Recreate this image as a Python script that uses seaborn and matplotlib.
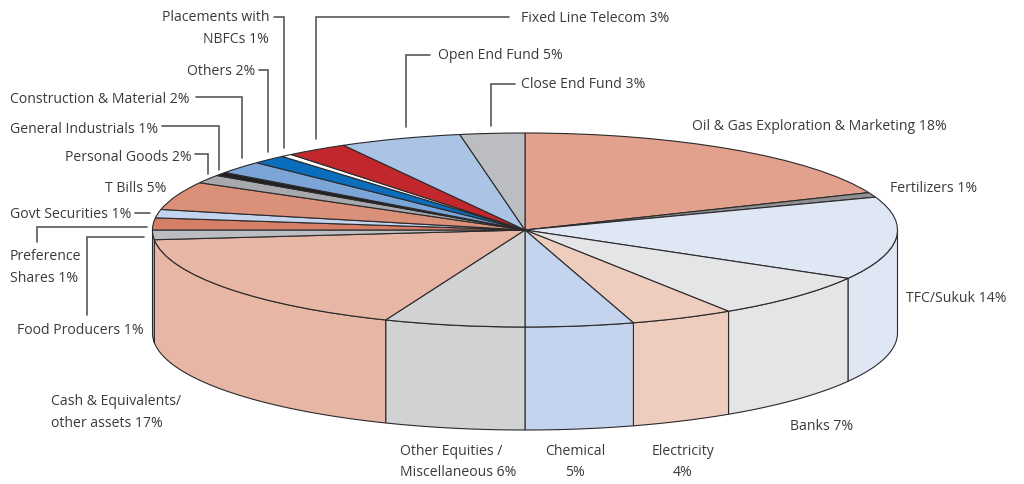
import numpy as np
import matplotlib
matplotlib.use('Agg')
import matplotlib.pyplot as plt
import seaborn as sns

# Sector shares (printed labels are rounded)
sectors = ['Oil & Gas', 'Fertilizers', 'TFC/Sukuk', 'Banks', 'Electricity', 'Chemical',
           'Other Equities', 'Cash', 'Food Producers', 'Preference Shares', 'Govt Securities',
           'T Bills', 'Personal Goods', 'General Industrials', 'Construction', 'Others',
           'Placements', 'Fixed Line Telecom', 'Open End Fund', 'Close End Fund']
shares = [18.7, 0.8, 13.8, 7.5, 4.5, 4.7, 6.1, 17.3, 1.6, 2.0, 1.4, 4.7, 1.4, 0.6, 2.1, 1.5, 0.5, 2.7, 5.3, 2.8]
slice_colors = ['#E2A18C', '#8E9093', '#DFE6F4', '#E4E5E6', '#EECDBF', '#C5D4EE', '#D1D2D4',
                '#E7B6A4', '#BBBDC0', '#D57F67', '#C5D4EE', '#DB9079', '#A7A9AC', '#231F20',
                '#7BA4D7', '#0A6EBD', '#FFFFFF', '#C1272D', '#ABC4E6', '#BBBDC0']

# text, x, y, alignment
label_lines = [
    ('Placements with', 269, 16, 'right'), ('NBFCs 1%', 269, 38, 'right'),
    ('Others 2%', 255, 70, 'right'), ('Construction & Material 2%', 10, 98, 'left'),
    ('General Industrials 1%', 10, 128, 'left'), ('Personal Goods 2%', 65, 156, 'left'),
    ('T Bills 5%', 105, 187, 'left'), ('Govt Securities 1%', 10, 213, 'left'),
    ('Preference', 10, 255, 'left'), ('Shares 1%', 10, 277, 'left'),
    ('Food Producers 1%', 17, 329, 'left'),
    ('Cash & Equivalents/', 51, 400, 'left'), ('other assets 17%', 51, 422, 'left'),
    ('Other Equities /', 400, 450, 'left'), ('Miscellaneous 6%', 400, 471, 'left'),
    ('Chemical', 575, 450, 'center'), ('5%', 575, 471, 'center'),
    ('Electricity', 683, 450, 'center'), ('4%', 683, 471, 'center'),
    ('Banks 7%', 790, 425, 'left'), ('TFC/Sukuk 14%', 906, 297, 'left'),
    ('Fertilizers 1%', 890, 187, 'left'),
    ('Oil & Gas Exploration & Marketing 18%', 692, 125, 'left'),
    ('Close End Fund 3%', 521, 83, 'left'), ('Open End Fund 5%', 438, 54, 'left'),
    ('Fixed Line Telecom 3%', 521, 17, 'left'),
]

leaders = [
    ([274, 284, 284], [17, 17, 148]), ([259, 268, 268], [70, 70, 152]),
    ([196, 242, 242], [97, 97, 158]), ([162, 219, 219], [126, 126, 170]),
    ([195, 208, 208], [154, 154, 174]), ([135, 150], [213, 213]),
    ([37, 37, 147], [242, 227, 227]), ([87, 87, 144], [315, 237, 237]),
    ([509, 316, 316], [17, 17, 139]), ([430, 406, 406], [55, 55, 127]),
    ([515, 491, 491], [84, 84, 126]),
]

sns.set_theme(style='white')
plt.rcParams['font.family'] = ['Open Sans', 'DejaVu Sans']

cx, cy, rx, ry, depth = 525, 230, 372.5, 97, 103
edge = '#2B2A2B'

fig = plt.figure(figsize=(10.24, 4.84), dpi=100)
ax = fig.add_axes([0, 0, 1, 1])
palette = sns.color_palette(slice_colors)

# top of the pie, squashed to an ellipse by the axis limits
ax.pie(shares, colors=palette, startangle=90, counterclock=False, radius=1,
       wedgeprops={'edgecolor': edge, 'linewidth': 0.8, 'zorder': 3})

# side wall of the front half
ends = np.cumsum(shares) / np.sum(shares) * 2 * np.pi
starts = np.concatenate([[0], ends[:-1]])
for a, b, col in zip(starts, ends, palette):
    a, b = max(a, np.pi / 2), min(b, 3 * np.pi / 2)
    if b <= a:
        continue
    t = np.linspace(a, b, 60)
    xs = np.sin(t)
    ys = np.cos(t)
    low = ys - depth / ry
    ax.fill(np.r_[xs, xs[::-1]], np.r_[ys, low[::-1]], facecolor=col, edgecolor=edge,
            linewidth=0.8, zorder=2)

ax.set_aspect('auto')
ax.set_xlim(-cx / rx, (1024 - cx) / rx)
ax.set_ylim((cy - 484) / ry, cy / ry)
ax.axis('off')

# labels and leader lines in picture pixels
over = fig.add_axes([0, 0, 1, 1], facecolor='none')
over.set_xlim(0, 1024)
over.set_ylim(484, 0)
over.axis('off')
for xs, ys in leaders:
    over.plot(xs, ys, color='#58595B', lw=1.2, solid_joinstyle='miter')
for text, x, y, ha in label_lines:
    over.text(x, y + 1.5, text, ha=ha, va='center', fontsize=10.05, color='#3A3A3C')

fig.savefig('out.png', dpi=100)
